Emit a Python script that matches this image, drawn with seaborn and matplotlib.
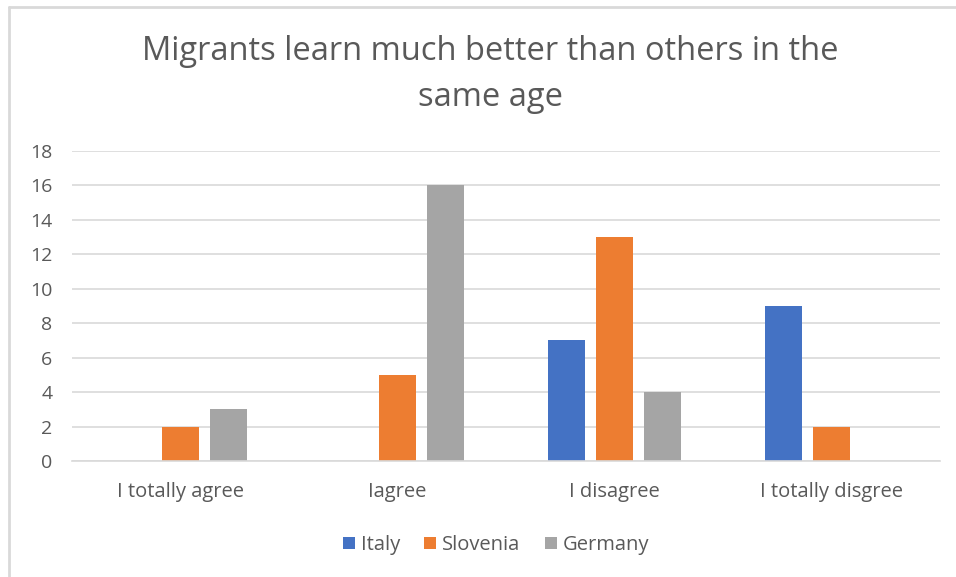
import matplotlib
matplotlib.use("Agg")
import matplotlib.pyplot as plt
import seaborn as sns
import pandas as pd
from matplotlib.patches import Patch
from matplotlib.lines import Line2D

categories = ["I totally agree", "Iagree", "I disagree", "I totally disgree"]
series = ["Italy", "Slovenia", "Germany"]
italy = [0, 0, 7, 9]
slovenia = [2, 5, 13, 2]
germany = [3, 16, 4, 0]
colors = ["#4472C4", "#ED7D31", "#A5A5A5"]
yticks = [0, 2, 4, 6, 8, 10, 12, 14, 16, 18]

rows = []
for name, vals in zip(series, [italy, slovenia, germany]):
    for cat, v in zip(categories, vals):
        rows.append({"category": cat, "country": name, "value": v})
df = pd.DataFrame(rows)

sns.set_theme(style="white")
plt.rcParams["font.family"] = ["Open Sans", "DejaVu Sans"]

text_col = "#595959"
grid_col = "#D9D9D9"

fig = plt.figure(figsize=(9.56, 5.77), dpi=100)
ax = fig.add_axes([72 / 956, 1 - 461 / 577, 868 / 956, 310 / 577])

sns.barplot(data=df, x="category", y="value", hue="country",
            order=categories, hue_order=series, palette=colors,
            width=0.664, gap=0.23, saturation=1, legend=False,
            edgecolor="none", linewidth=0, ax=ax)

ax.set_ylim(0, 18)
ax.set_yticks(yticks)
ax.set_xlim(-0.5, len(categories) - 0.5)
ax.yaxis.grid(True, color=grid_col, linewidth=1.2)
ax.set_axisbelow(True)
for s in ["top", "right", "left"]:
    ax.spines[s].set_visible(False)
ax.spines["bottom"].set_color(grid_col)
ax.spines["bottom"].set_linewidth(1.2)
ax.set_xlabel("")
ax.set_ylabel("")
ax.tick_params(axis="y", length=0, pad=14, labelsize=14, labelcolor=text_col)
ax.tick_params(axis="x", length=0, pad=15, labelsize=14.5, labelcolor=text_col)

title_x = 490 / 956
fig.text(title_x, 1 - 51 / 577, "Migrants learn much better than others in the",
         ha="center", va="center", fontsize=23.5, color=text_col)
fig.text(title_x, 1 - 98 / 577, "same age",
         ha="center", va="center", fontsize=23.5, color=text_col)

handles = [Patch(facecolor=c, edgecolor="none", label=n) for n, c in zip(series, colors)]
fig.legend(handles=handles, loc="center", bbox_to_anchor=(496 / 956, 1 - 545 / 577),
           ncol=3, frameon=False, fontsize=14.5, labelcolor=text_col,
           handlelength=0.6, handleheight=0.6, handletextpad=0.3, columnspacing=1.2)

# chart frame
fig.add_artist(Line2D([9 / 956, 1], [1 - 7 / 577, 1 - 7 / 577], color=grid_col, linewidth=2,
                      transform=fig.transFigure))
fig.add_artist(Line2D([9 / 956, 9 / 956], [0, 1 - 7 / 577], color=grid_col, linewidth=2,
                      transform=fig.transFigure))

fig.savefig("out.png", dpi=100, facecolor="white")
